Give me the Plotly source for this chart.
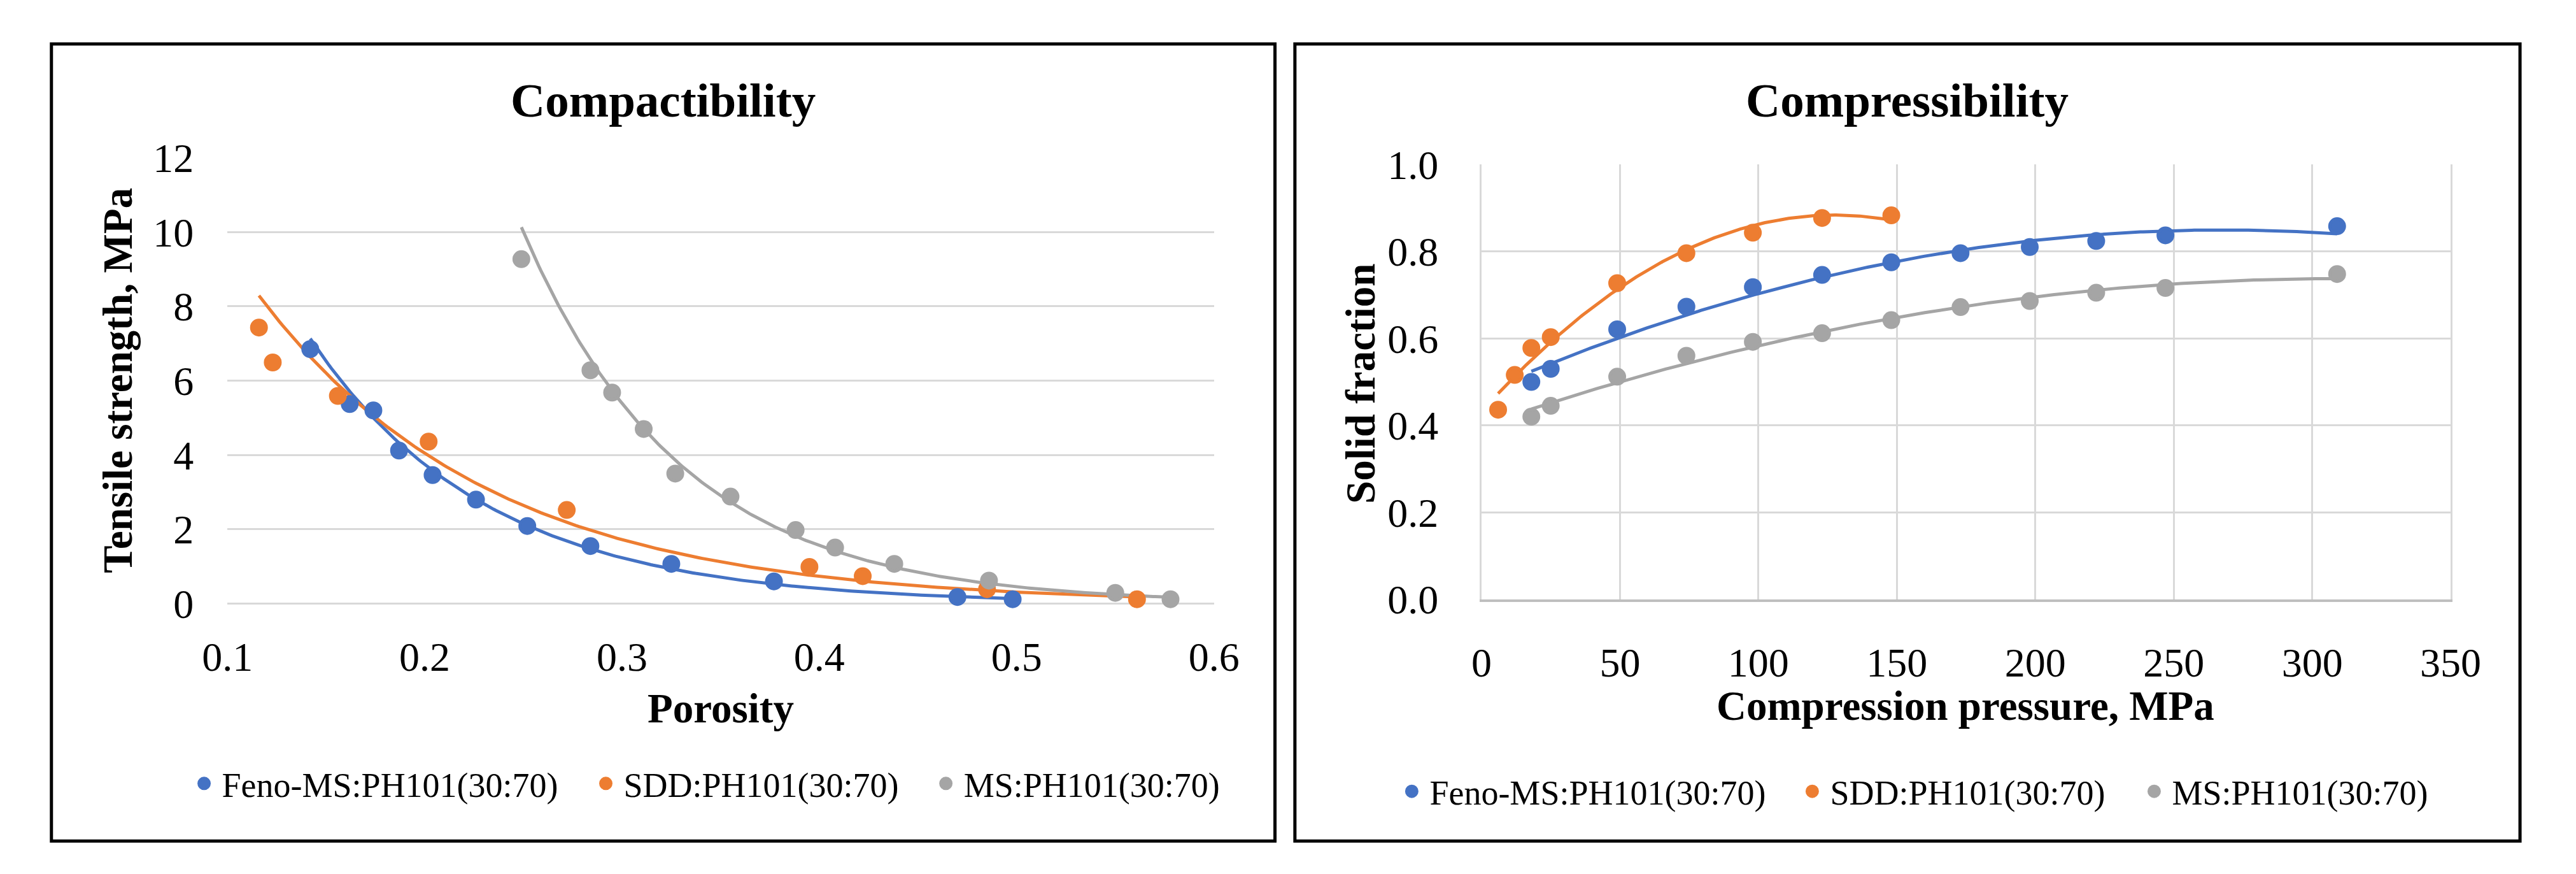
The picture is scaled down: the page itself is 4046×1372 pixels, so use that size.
import numpy as np
import plotly.graph_objects as go

W, H = 4046, 1372
FONT = "Liberation Serif"
BLUE, ORANGE, GRAY = "#4472C4", "#ED7D31", "#A5A5A5"
GRID = "#D9D9D9"

series_names = ["Feno-MS:PH101(30:70)", "SDD:PH101(30:70)", "MS:PH101(30:70)"]

# ---- Compactibility data (porosity vs tensile strength, MPa)
feno_porosity = [0.142, 0.162, 0.174, 0.187, 0.204, 0.226, 0.252, 0.284, 0.325, 0.377, 0.470, 0.498]
feno_ts = [6.85, 5.37, 5.20, 4.12, 3.46, 2.80, 2.09, 1.55, 1.07, 0.60, 0.18, 0.12]
sdd_porosity = [0.116, 0.123, 0.156, 0.202, 0.272, 0.395, 0.422, 0.485, 0.561]
sdd_ts = [7.43, 6.49, 5.59, 4.36, 2.52, 0.99, 0.74, 0.39, 0.12]
ms_porosity = [0.249, 0.284, 0.295, 0.311, 0.327, 0.355, 0.388, 0.408, 0.438, 0.486, 0.550, 0.578]
ms_ts = [9.27, 6.28, 5.68, 4.70, 3.50, 2.88, 1.98, 1.51, 1.07, 0.62, 0.29, 0.12]

# ---- Compressibility data (compression pressure, MPa vs solid fraction)
feno_pressure = [18, 25, 49, 74, 98, 123, 148, 173, 198, 222, 247, 309]
feno_sf = [0.500, 0.530, 0.621, 0.673, 0.718, 0.746, 0.775, 0.796, 0.810, 0.824, 0.837, 0.858]
sdd_pressure = [6, 12, 18, 25, 49, 74, 98, 123, 148]
sdd_sf = [0.436, 0.516, 0.578, 0.603, 0.727, 0.796, 0.843, 0.877, 0.883]
ms_pressure = [18, 25, 49, 74, 98, 123, 148, 173, 198, 222, 247, 309]
ms_sf = [0.420, 0.445, 0.512, 0.560, 0.592, 0.612, 0.642, 0.672, 0.686, 0.705, 0.716, 0.748]


def px_x(p):
    return p / W


def px_y(p):
    return 1 - p / H


def exp_trend(x, y):
    x = np.asarray(x, float)
    y = np.asarray(y, float)
    b, a = np.polyfit(x, np.log(y), 1)
    xs = np.linspace(x.min(), x.max(), 300)
    return xs, np.exp(a + b * xs)


def poly_trend(x, y):
    x = np.asarray(x, float)
    y = np.asarray(y, float)
    c = np.polyfit(x, y, 2)
    xs = np.linspace(x.min(), x.max(), 300)
    return xs, np.polyval(c, xs)


fig = go.Figure()

left = [(feno_porosity, feno_ts, BLUE), (sdd_porosity, sdd_ts, ORANGE), (ms_porosity, ms_ts, GRAY)]
right = [(feno_pressure, feno_sf, BLUE), (sdd_pressure, sdd_sf, ORANGE), (ms_pressure, ms_sf, GRAY)]

# trendlines first
for (x, y, c) in left:
    xs, ys = exp_trend(x, y)
    fig.add_trace(go.Scatter(x=xs, y=ys, mode="lines", line=dict(color=c, width=5),
                             showlegend=False, hoverinfo="skip", xaxis="x", yaxis="y", cliponaxis=False))
for (x, y, c) in right:
    xs, ys = poly_trend(x, y)
    fig.add_trace(go.Scatter(x=xs, y=ys, mode="lines", line=dict(color=c, width=5),
                             showlegend=False, hoverinfo="skip", xaxis="x2", yaxis="y2", cliponaxis=False))

legend_ids_left = ["legend", "legend2", "legend3"]
legend_ids_right = ["legend4", "legend5", "legend6"]
for i, (x, y, c) in enumerate(left):
    fig.add_trace(go.Scatter(x=x, y=y, mode="markers", name=series_names[i],
                             marker=dict(color=c, size=23, line=dict(color=c, width=5)),
                             xaxis="x", yaxis="y", legend=legend_ids_left[i], cliponaxis=False))
for i, (x, y, c) in enumerate(right):
    fig.add_trace(go.Scatter(x=x, y=y, mode="markers", name=series_names[i],
                             marker=dict(color=c, size=23, line=dict(color=c, width=5)),
                             xaxis="x2", yaxis="y2", legend=legend_ids_right[i], cliponaxis=False))

tickfont = dict(family=FONT, size=64, color="black")
title_font = dict(family=FONT, size=65, color="black")

layout = dict(
    width=W, height=H, margin=dict(l=0, r=0, t=0, b=0),
    paper_bgcolor="white", plot_bgcolor="white",
    font=dict(family=FONT, color="black"),
    xaxis=dict(domain=[px_x(316), px_x(1900)], range=[0.1, 0.6], dtick=0.1, tick0=0.1,
               showgrid=False, zeroline=False, showline=False, tickfont=tickfont,
               ticks="", ticklabelstandoff=40, anchor="y", fixedrange=True),
    yaxis=dict(domain=[px_y(954), px_y(215.7)], range=[0, 12], dtick=2,
               showgrid=True, gridcolor=GRID, gridwidth=3, zeroline=True, zerolinecolor=GRID,
               zerolinewidth=3, showline=False, tickfont=tickfont, ticks="",
               ticklabelstandoff=52, anchor="x"),
    xaxis2=dict(domain=[px_x(2329.6), px_x(3885.6)], range=[0, 350], dtick=50,
                showgrid=True, gridcolor=GRID, gridwidth=3, zeroline=False,
                showline=True, linecolor="#BFBFBF", linewidth=4, tickfont=tickfont,
                ticks="", ticklabelstandoff=40, anchor="y2"),
    yaxis2=dict(domain=[px_y(946.8), px_y(226.9)], range=[0, 1.0], dtick=0.2, tickformat=".1f",
                showgrid=True, gridcolor=GRID, gridwidth=3, zeroline=False,
                showline=True, mirror=True, linecolor=GRID, linewidth=3, tickfont=tickfont,
                ticks="", ticklabelstandoff=52, anchor="x2"),
)

leg_common = dict(orientation="h", xanchor="left", yanchor="middle", bgcolor="rgba(0,0,0,0)",
                  font=dict(family=FONT, size=54, color="black"), itemwidth=46, borderwidth=0)
left_marker_x = [278, 923, 1469]
right_marker_x = [2217, 2860, 3409]
for lid, mx in zip(legend_ids_left, left_marker_x):
    layout[lid] = dict(leg_common, x=px_x(mx - 28), y=px_y(1252))
for lid, mx in zip(legend_ids_right, right_marker_x):
    layout[lid] = dict(leg_common, x=px_x(mx - 28), y=px_y(1265))

fig.update_layout(**layout)

# panel frames
for x0, x1 in [(33.5, 1998), (2030, 3997)]:
    fig.add_shape(type="rect", xref="paper", yref="paper",
                  x0=px_x(x0), x1=px_x(x1), y0=px_y(1347), y1=px_y(27.5),
                  line=dict(color="black", width=5), fillcolor="rgba(0,0,0,0)", layer="above")

# titles
fig.add_annotation(text="<b>Compactibility</b>", xref="paper", yref="paper", x=px_x(1016), y=px_y(121),
                   showarrow=False, xanchor="center", yanchor="middle", font=dict(family=FONT, size=75))
fig.add_annotation(text="<b>Compressibility</b>", xref="paper", yref="paper", x=px_x(3013), y=px_y(121),
                   showarrow=False, xanchor="center", yanchor="middle", font=dict(family=FONT, size=75))
# axis titles
fig.add_annotation(text="<b>Porosity</b>", xref="paper", yref="paper", x=px_x(1108), y=px_y(1127),
                   showarrow=False, xanchor="center", yanchor="middle", font=title_font)
fig.add_annotation(text="<b>Compression pressure, MPa</b>", xref="paper", yref="paper", x=px_x(3107),
                   y=px_y(1123), showarrow=False, xanchor="center", yanchor="middle", font=title_font)
fig.add_annotation(text="<b>Tensile strength, MPa</b>", xref="paper", yref="paper", x=px_x(140),
                   y=px_y(584), showarrow=False, xanchor="center", yanchor="middle", textangle=-90,
                   font=title_font)
fig.add_annotation(text="<b>Solid fraction</b>", xref="paper", yref="paper", x=px_x(2136),
                   y=px_y(590), showarrow=False, xanchor="center", yanchor="middle", textangle=-90,
                   font=title_font)

fig.write_html("out.html")
